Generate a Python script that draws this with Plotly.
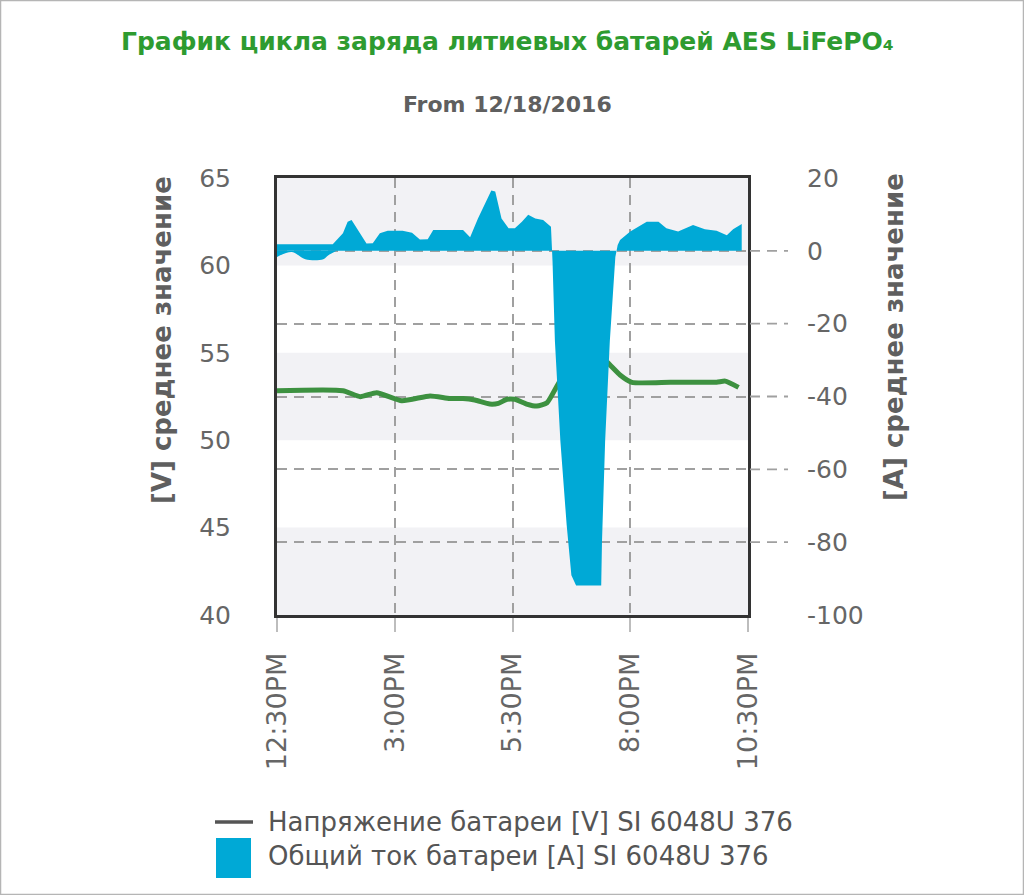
import plotly.graph_objects as go

DAY = "2016-12-18 "

# Battery current [A] (upper envelope of the area)
current_times = ["12:30", "13:41", "13:54", "14:00", "14:05", "14:24", "14:32", "14:41", "14:51", "15:10",
                 "15:22", "15:32", "15:42", "15:49", "16:27", "16:36", "16:46", "17:03", "17:08", "17:16",
                 "17:25", "17:33", "17:42", "17:50", "17:59", "18:09", "18:19", "18:21", "18:24", "18:31",
                 "18:39", "18:45", "18:51", "19:23", "19:24", "19:28", "19:34", "19:41", "19:44", "19:47",
                 "20:00", "20:21", "20:36", "20:46", "21:01", "21:20", "21:35", "21:50", "22:03", "22:11",
                 "22:22"]
current_values = [1.8, 1.8, 4.8, 8.0, 8.5, 2.0, 2.1, 4.8, 5.5, 5.5,
                  5.0, 3.1, 3.2, 5.7, 5.7, 3.7, 8.9, 16.6, 16.3, 8.9,
                  6.2, 6.2, 8.0, 9.9, 8.9, 8.5, 6.6, -3.0, -24.7, -52.3,
                  -75.3, -89.1, -91.9, -91.9, -79.9, -52.3, -24.7, -1.7, 1.6, 3.0,
                  5.3, 8.0, 8.0, 6.2, 5.3, 7.1, 5.9, 5.5, 4.3, 5.9,
                  7.4]

# Small negative dip of the current at the start of the period
dip_times = ["12:30", "12:49", "13:06", "13:29", "13:35", "13:46"]
dip_values = [-1.7, -0.3, -2.3, -2.3, -1.3, 0.0]

# Battery voltage [V]
voltage_times = ["12:30", "13:54", "14:16", "14:37", "15:09", "15:45", "16:10", "16:27", "16:42", "17:01",
                 "17:12", "17:23", "17:33", "17:48", "18:01", "18:14", "18:31", "18:52", "19:09", "19:15",
                 "19:30", "19:47", "20:02", "20:51", "21:50", "22:01", "22:18"]
voltage_values = [52.83, 52.83, 52.49, 52.72, 52.26, 52.53, 52.39, 52.39, 52.30, 52.07,
                  52.11, 52.34, 52.34, 52.07, 51.95, 52.14, 53.44, 54.63, 55.00, 54.97,
                  54.49, 53.73, 53.31, 53.31, 53.32, 53.38, 53.02]

x_tick_times = ["12:30", "15:00", "17:30", "20:00", "22:30"]
x_tick_labels = ["12:30PM", "3:00PM", "5:30PM", "8:00PM", "10:30PM"]
v_ticks = [40, 45, 50, 55, 60, 65]
a_ticks = [-100, -80, -60, -40, -20, 0, 20]
a_tick_labels = ["-100", "-80", "-60", "-40", "-20", "0", "20"]
band_ranges = [(40, 45), (50, 55), (60, 65)]

TITLE = "График цикла заряда литиевых батарей AES LiFePO₄"
SUBTITLE = "From 12/18/2016"
V_TITLE = "[V] среднее значение"
A_TITLE = "[A] среднее значение"
LEG_V = "Напряжение батареи [V] SI 6048U 376"
LEG_A = "Общий ток батареи [A] SI 6048U 376"

BLUE = "#00a9d6"
GREEN = "#3d9140"
GRAY_TXT = "#5f5f5f"
FONT = "DejaVu Sans"

W, H = 1024, 895
ML, MR, MT, MB = 277, 276, 178, 280
PW, PH = W - ML - MR, H - MT - MB


def ts(t):
    return DAY + t


def px(xp):  # page pixel -> paper x
    return (xp - ML) / PW


def py(yp):  # page pixel -> paper y
    return (H - MB - yp) / PH


fig = go.Figure()

fig.add_trace(go.Scatter(
    x=[ts(t) for t in current_times], y=current_values, yaxis="y2",
    mode="lines", line=dict(color=BLUE, width=0), fill="tozeroy", fillcolor=BLUE,
    showlegend=False, hoverinfo="skip"))
fig.add_trace(go.Scatter(
    x=[ts(t) for t in dip_times], y=dip_values, yaxis="y2",
    mode="lines", line=dict(color=BLUE, width=0, shape="spline"), fill="tozeroy", fillcolor=BLUE,
    showlegend=False, hoverinfo="skip"))
fig.add_trace(go.Scatter(
    x=[ts(t) for t in voltage_times], y=voltage_values, yaxis="y",
    mode="lines", line=dict(color=GREEN, width=5, shape="spline", smoothing=0.5),
    showlegend=False, hoverinfo="skip"))

shapes = []
for lo, hi in band_ranges:
    shapes.append(dict(type="rect", xref="x domain", yref="y", x0=0, x1=1, y0=lo, y1=hi,
                       fillcolor="#f2f2f5", line=dict(width=0), layer="below"))
# dashed grid continuation to the right of the plot
for a in a_ticks[1:-1]:
    shapes.append(dict(type="line", xref="paper", yref="y2", x0=px(750), x1=px(788), y0=a, y1=a,
                       line=dict(color="#a0a0a0", width=1.8, dash="10px,7px")))
# page border
shapes.append(dict(type="rect", xref="paper", yref="paper", x0=px(0.5), x1=px(W - 0.5),
                   y0=py(H - 0.5), y1=py(0.5),
                   line=dict(color="#b5b5b5", width=1.5), fillcolor="rgba(0,0,0,0)"))
# manual legend symbols
shapes.append(dict(type="line", xref="paper", yref="paper", x0=px(215), x1=px(253),
                   y0=py(822), y1=py(822), line=dict(color="#555555", width=3.5)))
shapes.append(dict(type="rect", xref="paper", yref="paper", x0=px(216), x1=px(251),
                   y0=py(878), y1=py(838), fillcolor=BLUE, line=dict(width=0)))

annotations = [
    dict(text=f"<b>{TITLE}</b>", x=px(507), y=py(42), xref="paper", yref="paper",
         showarrow=False, xanchor="center", yanchor="middle",
         font=dict(family=FONT, size=25, color="#2e9b30")),
    dict(text=f"<b>{SUBTITLE}</b>", x=px(507), y=py(104), xref="paper", yref="paper",
         showarrow=False, xanchor="center", yanchor="middle",
         font=dict(family=FONT, size=22, color=GRAY_TXT)),
    dict(text=f"<b>{V_TITLE}</b>", x=px(162), y=py(340), xref="paper", yref="paper",
         showarrow=False, xanchor="center", yanchor="middle", textangle=-90,
         font=dict(family=FONT, size=26, color=GRAY_TXT)),
    dict(text=f"<b>{A_TITLE}</b>", x=px(894), y=py(337), xref="paper", yref="paper",
         showarrow=False, xanchor="center", yanchor="middle", textangle=-90,
         font=dict(family=FONT, size=26, color=GRAY_TXT)),
    dict(text=LEG_V, x=px(266), y=py(822), xref="paper", yref="paper",
         showarrow=False, xanchor="left", yanchor="middle",
         font=dict(family=FONT, size=26, color="#555555")),
    dict(text=LEG_A, x=px(266), y=py(856), xref="paper", yref="paper",
         showarrow=False, xanchor="left", yanchor="middle",
         font=dict(family=FONT, size=26, color="#555555")),
]

y_tick_font = dict(family=FONT, size=25, color="#666666")
x_tick_font = dict(family=FONT, size=27, color="#666666")

fig.update_layout(
    width=W, height=H,
    margin=dict(l=ML, r=MR, t=MT, b=MB),
    paper_bgcolor="white", plot_bgcolor="white",
    showlegend=False,
    shapes=shapes, annotations=annotations,
    xaxis=dict(
        type="date", range=[ts("12:30"), ts("22:30")],
        tickmode="array", tickvals=[ts(t) for t in x_tick_times], ticktext=x_tick_labels,
        tickangle=-90, tickfont=x_tick_font,
        ticks="outside", ticklen=14, tickwidth=2, tickcolor="#bdbdbd",
        ticklabelstandoff=10,
        showgrid=True, gridcolor="#a0a0a0", gridwidth=1.8, griddash="10px,7px",
        showline=True, linecolor="#333333", linewidth=3, mirror=True,
        zeroline=False, fixedrange=True,
    ),
    yaxis=dict(
        range=[40, 65], tickmode="array", tickvals=v_ticks,
        tickfont=y_tick_font, ticks="", ticklabelstandoff=38,
        showgrid=False, zeroline=False,
        showline=True, linecolor="#333333", linewidth=3, mirror=True,
    ),
    yaxis2=dict(
        range=[-100, 20], overlaying="y", side="right", tickmode="array",
        tickvals=a_ticks, ticktext=a_tick_labels,
        tickfont=y_tick_font, ticks="", ticklabelstandoff=58,
        showgrid=True, gridcolor="#a0a0a0", gridwidth=1.8, griddash="10px,7px",
        zeroline=False, showline=False,
    ),
)

fig.write_html("out.html")
